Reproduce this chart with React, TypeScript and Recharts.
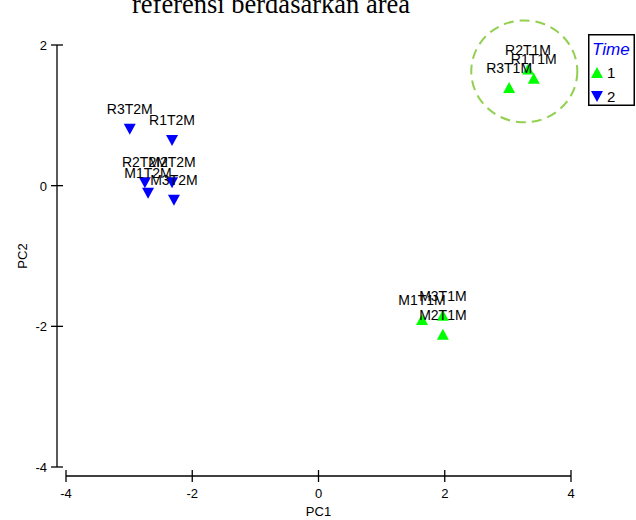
import { ScatterChart, Scatter, XAxis, YAxis, ReferenceLine, ReferenceArea } from "recharts";

// PCA scores
const time1Names = ["R1T1M", "R2T1M", "R3T1M", "M1T1M", "M2T1M", "M3T1M"];
const time1PC1 = [3.41, 3.32, 3.02, 1.64, 1.97, 1.97];
const time1PC2 = [1.52, 1.65, 1.39, -1.91, -2.12, -1.85];

const time2Names = ["R1T2M", "R2T2M", "R3T2M", "M1T2M", "M2T2M", "M3T2M"];
const time2PC1 = [-2.32, -2.75, -2.99, -2.7, -2.32, -2.29];
const time2PC2 = [0.65, 0.05, 0.81, -0.1, 0.05, -0.2];

const xTicks = [-4, -2, 0, 2, 4];
const yTicks = [-4, -2, 0, 2];
const legendLabels = ["1", "2"];

// dashed ring around the R*T1M group: [x1, x2, y1, y2]
const ringBox = [2.42, 4.1, 0.9, 2.35];

const GREEN = "#00ff00";
const BLUE = "#0000ff";
const RING = "#92d050";
const FONT = "Arial, 'Liberation Sans', sans-serif";

const W = 636;
const H = 520;
const PLOT = { left: 66, right: 571, top: 45, bottom: 467 };
const X_DOMAIN = [-4, 4];
const Y_DOMAIN = [-4, 2];

// the axis lines are detached from the plot box by a few px
const AXIS_GAP = 9;
const xAxisAt =
  Y_DOMAIN[0] - (AXIS_GAP * (Y_DOMAIN[1] - Y_DOMAIN[0])) / (PLOT.bottom - PLOT.top);
const yAxisAt =
  X_DOMAIN[0] - (AXIS_GAP * (X_DOMAIN[1] - X_DOMAIN[0])) / (PLOT.right - PLOT.left);

const toRows = (names: string[], xs: number[], ys: number[]) =>
  names.map((name, i) => ({ name, pc1: xs[i], pc2: ys[i] }));

const time1 = toRows(time1Names, time1PC1, time1PC2);
const time2 = toRows(time2Names, time2PC1, time2PC2);

function UpTri({ cx, cy, fill }: any) {
  return <polygon points={`${cx - 6},${cy + 5} ${cx + 6},${cy + 5} ${cx},${cy - 6}`} fill={fill} />;
}

function DownTri({ cx, cy, fill }: any) {
  return <polygon points={`${cx - 6},${cy - 5} ${cx + 6},${cy - 5} ${cx},${cy + 6}`} fill={fill} />;
}

function PointLabel({ cx, cy, payload }: any) {
  return (
    <text x={cx} y={cy - 15} textAnchor="middle" fontSize={14} fontFamily={FONT} fill="#000">
      {payload.name}
    </text>
  );
}

function XTick({ x, y, payload }: any) {
  return (
    <g>
      <line x1={x} x2={x} y1={y + 3} y2={y + 15} stroke="#000" strokeWidth={1.3} />
      <text x={x} y={y + 31} textAnchor="middle" fontSize={13} fontFamily={FONT} fill="#000">
        {payload.value}
      </text>
    </g>
  );
}

function YTick({ x, y, payload }: any) {
  return (
    <g>
      <line x1={x - 15} x2={x - 3} y1={y} y2={y} stroke="#000" strokeWidth={1.3} />
      <text x={x - 19} y={y + 5} textAnchor="end" fontSize={13} fontFamily={FONT} fill="#000">
        {payload.value}
      </text>
    </g>
  );
}

function Ring({ x, y, width, height }: any) {
  return (
    <ellipse
      cx={x + width / 2}
      cy={y + height / 2}
      rx={width / 2}
      ry={height / 2}
      fill="none"
      stroke={RING}
      strokeWidth={2}
      strokeDasharray="10 6"
    />
  );
}

export default function App() {
  return (
    <div style={{ position: "absolute", left: 0, top: 0, width: W, height: H, background: "#fff" }}>
      <div
        style={{
          position: "absolute",
          left: 0,
          top: -11,
          width: 542,
          textAlign: "center",
          fontFamily: "'Liberation Serif', 'Times New Roman', serif",
          fontSize: 26.5,
          lineHeight: "30px",
          whiteSpace: "nowrap",
        }}
      >
        referensi berdasarkan area
      </div>

      <ScatterChart
        width={W}
        height={H}
        margin={{ top: PLOT.top, right: W - PLOT.right, bottom: 0, left: 0 }}
      >
        <XAxis
          type="number"
          dataKey="pc1"
          domain={X_DOMAIN}
          ticks={xTicks}
          interval={0}
          allowDataOverflow
          height={H - PLOT.bottom}
          axisLine={false}
          tickLine={false}
          tickSize={0}
          tickMargin={0}
          tick={<XTick />}
          label={{ value: "PC1", position: "insideBottom", offset: 4, fontSize: 13, fontFamily: FONT, fill: "#000" }}
        />
        <YAxis
          type="number"
          dataKey="pc2"
          domain={Y_DOMAIN}
          ticks={yTicks}
          interval={0}
          allowDataOverflow
          width={PLOT.left}
          axisLine={false}
          tickLine={false}
          tickSize={0}
          tickMargin={0}
          tick={<YTick />}
          label={{
            content: ({ viewBox }: any) => {
              const cy = viewBox.y + viewBox.height / 2;
              const lx = viewBox.x + 27;
              return (
                <text
                  x={lx}
                  y={cy}
                  transform={`rotate(-90 ${lx} ${cy})`}
                  textAnchor="middle"
                  fontSize={13}
                  fontFamily={FONT}
                  fill="#000"
                >
                  PC2
                </text>
              );
            },
          }}
        />
        <ReferenceLine
          segment={[
            { x: X_DOMAIN[0], y: xAxisAt },
            { x: X_DOMAIN[1], y: xAxisAt },
          ]}
          stroke="#000"
          strokeWidth={1.3}
          ifOverflow="visible"
        />
        <ReferenceLine
          segment={[
            { x: yAxisAt, y: Y_DOMAIN[0] },
            { x: yAxisAt, y: Y_DOMAIN[1] },
          ]}
          stroke="#000"
          strokeWidth={1.3}
          ifOverflow="visible"
        />
        <ReferenceArea
          x1={ringBox[0]}
          x2={ringBox[1]}
          y1={ringBox[2]}
          y2={ringBox[3]}
          ifOverflow="visible"
          shape={<Ring />}
        />
        <Scatter data={time1} fill={GREEN} shape={<UpTri />} isAnimationActive={false} />
        <Scatter data={time2} fill={BLUE} shape={<DownTri />} isAnimationActive={false} />
        <Scatter data={time1} shape={<PointLabel />} isAnimationActive={false} />
        <Scatter data={time2} shape={<PointLabel />} isAnimationActive={false} />
      </ScatterChart>

      <svg style={{ position: "absolute", left: 588, top: 34 }} width={47} height={72}>
        <rect x={0.75} y={0.75} width={45.5} height={70.5} fill="#fff" stroke="#000" strokeWidth={1.5} />
        <text x={4} y={21} fontSize={17} fontStyle="italic" fontFamily={FONT} fill={BLUE}>
          Time
        </text>
        <polygon points="3,44 15,44 9,33" fill={GREEN} />
        <text x={19} y={44} fontSize={15} fontFamily={FONT} fill="#000">
          {legendLabels[0]}
        </text>
        <polygon points="3,57 15,57 9,68" fill={BLUE} />
        <text x={19} y={68} fontSize={15} fontFamily={FONT} fill="#000">
          {legendLabels[1]}
        </text>
      </svg>
    </div>
  );
}
